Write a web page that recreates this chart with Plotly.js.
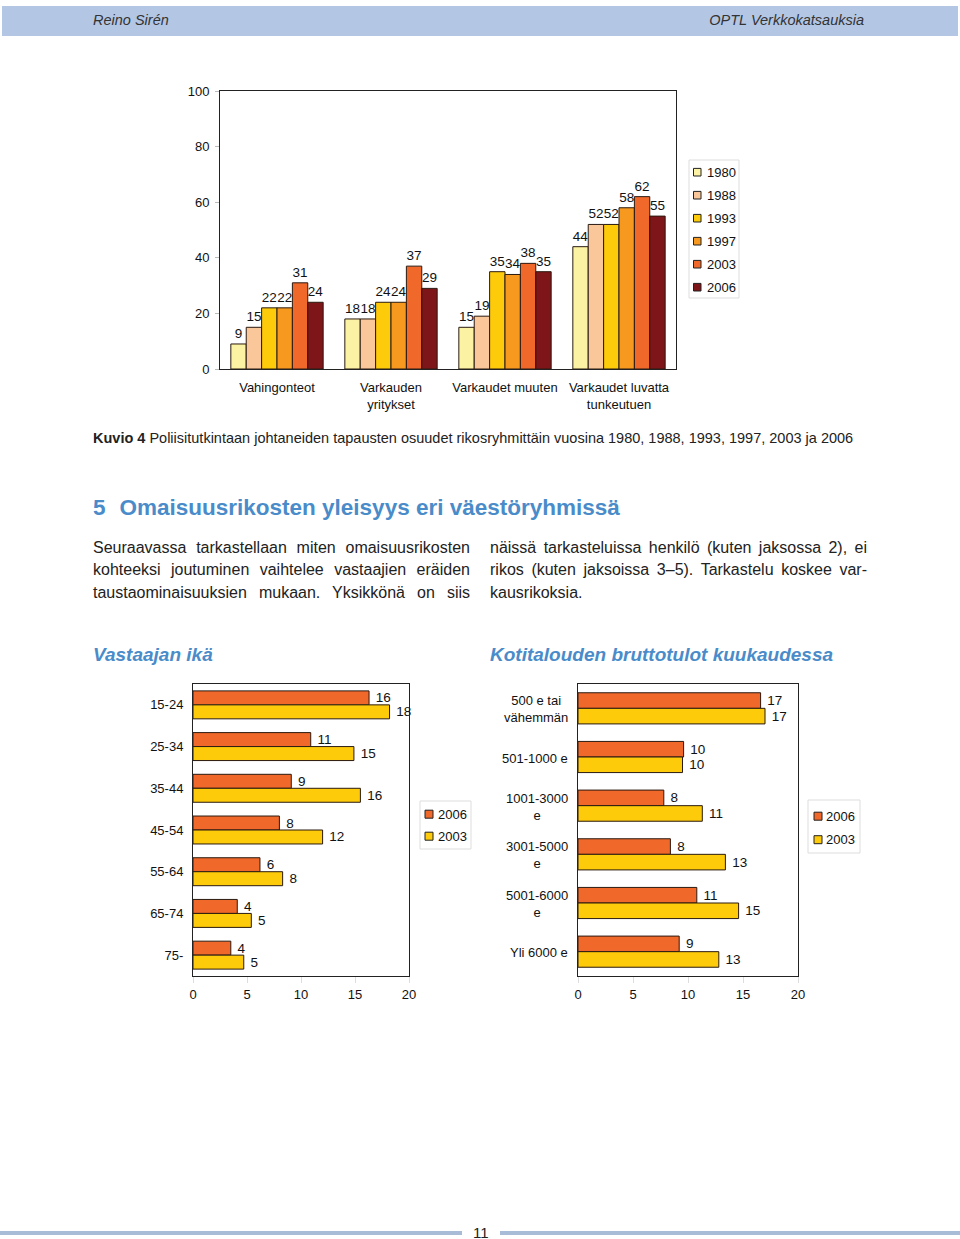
<!DOCTYPE html>
<html><head><meta charset="utf-8">
<script src="https://cdn.plot.ly/plotly-3.0.1.min.js"></script>
<style>
html,body{margin:0;padding:0;background:#fff;}
body{width:960px;height:1239px;overflow:hidden;position:relative;font-family:"Liberation Sans",Arial,Helvetica,sans-serif;color:#222;}
#chart{position:absolute;left:0;top:0;width:960px;height:1239px;}
.t{position:absolute;white-space:nowrap;}
.j{position:absolute;white-space:nowrap;text-align:justify;text-align-last:justify;font-size:16px;height:22px;line-height:22px;width:377px;}
</style></head><body>
<div id="chart"></div>
<div style="position:absolute;left:2px;top:6px;width:956px;height:30px;background:#B3C7E5;"></div>
<div class="t" style="left:93px;top:10px;font-size:14.5px;line-height:20px;font-style:italic;color:#333;">Reino Sirén</div>
<div class="t" style="right:96px;top:10px;font-size:14.5px;line-height:20px;font-style:italic;color:#333;">OPTL Verkkokatsauksia</div>
<div class="t" style="left:93px;top:428px;font-size:14.5px;line-height:20px;color:#222;"><b>Kuvio 4</b> Poliisitutkintaan johtaneiden tapausten osuudet rikosryhmittäin vuosina 1980, 1988, 1993, 1997, 2003 ja 2006</div>
<div class="t" style="left:93px;top:494px;font-size:22.5px;line-height:28px;font-weight:bold;color:#4A8BC9;">5<span style="display:inline-block;width:14px"></span>Omaisuusrikosten yleisyys eri väestöryhmissä</div>
<div class="j" style="left:93px;top:537px;">Seuraavassa tarkastellaan miten omaisuusrikosten</div>
<div class="j" style="left:93px;top:559px;">kohteeksi joutuminen vaihtelee vastaajien eräiden</div>
<div class="j" style="left:93px;top:582px;">taustaominaisuuksien mukaan. Yksikkönä on siis</div>
<div class="j" style="left:490px;top:537px;">näissä tarkasteluissa henkilö (kuten jaksossa 2), ei</div>
<div class="j" style="left:490px;top:559px;">rikos (kuten jaksoissa 3–5). Tarkastelu koskee var-</div>
<div class="j" style="left:490px;top:582px;text-align-last:left;">kausrikoksia.</div>
<div class="t" style="left:93px;top:642px;font-size:19px;line-height:25px;font-weight:bold;font-style:italic;color:#4A8BC9;">Vastaajan ikä</div>
<div class="t" style="left:490px;top:642px;font-size:19px;line-height:25px;font-weight:bold;font-style:italic;color:#4A8BC9;">Kotitalouden bruttotulot kuukaudessa</div>
<div style="position:absolute;left:0;top:1231px;width:462px;height:4px;background:#A8BCD8;"></div>
<div style="position:absolute;left:500px;top:1231px;width:460px;height:4px;background:#A8BCD8;"></div>
<div class="t" style="left:473px;top:1224px;font-size:15px;line-height:18px;color:#222;">11</div>
<script>
// ---- data ----
const crimeCategories = ['Vahingonteot','Varkauden<br>yritykset','Varkaudet muuten','Varkaudet luvatta<br>tunkeutuen'];
const crimeYears = ['1980','1988','1993','1997','2003','2006'];
const share1980 = [9,18,15,44];
const share1988 = [15,18,19,52];
const share1993 = [22,24,35,52];
const share1997 = [22,24,34,58];
const share2003 = [31,37,38,62];
const share2006 = [24,29,35,55];

const compareYears = ['2006','2003'];
const ageGroups = ['15-24','25-34','35-44','45-54','55-64','65-74','75-'];
const age2006 = [16.3,10.9,9.1,8.0,6.2,4.1,3.5];
const age2003 = [18.2,14.9,15.5,12.0,8.3,5.4,4.7];

const incomeGroups = ['500 e tai<br>vähemmän','501-1000 e','1001-3000<br>e','3001-5000<br>e','5001-6000<br>e','Yli 6000 e'];
const income2006 = [16.6,9.6,7.8,8.4,10.8,9.2];
const income2003 = [17.0,9.5,11.3,13.4,14.6,12.8];

// ---- styles ----
const yearColors = ['#FBF2A3','#F9C79A','#FDCB0A','#F7981F','#F0682A','#7E1518'];
const compareColors = ['#F0682A','#FDCB0A'];
const W = 960, H = 1239;
const px = x => x / W, py = y => 1 - y / H;
const FONT = 'Liberation Sans, Arial, sans-serif';
const outline = {color:'#2a1a10', width:1};

const traces = [];
const shareSeries = [share1980,share1988,share1993,share1997,share2003,share2006];
const bw1 = 0.81 / shareSeries.length;
shareSeries.forEach((vals, i) => {
  traces.push({type:'bar', name:crimeYears[i], x:crimeCategories, y:vals, xaxis:'x', yaxis:'y',
    width:bw1, offset:-0.405 + i*bw1,
    marker:{color:yearColors[i], line:outline},
    text:vals.map(String), textposition:'outside', cliponaxis:false, constraintext:'none',
    textfont:{size:13.5, color:'#111', family:FONT}, hoverinfo:'x+y'});
});
[age2006, age2003].forEach((vals, i) => {
  traces.push({type:'bar', orientation:'h', name:compareYears[i], x:vals, y:ageGroups, xaxis:'x2', yaxis:'y2',
    width:0.335, offset:i===0 ? -0.335 : 0,
    marker:{color:compareColors[i], line:outline},
    texttemplate:' %{x:.0f}', textposition:'outside', cliponaxis:false, constraintext:'none',
    textfont:{size:13.5, color:'#111', family:FONT}});
});
[income2006, income2003].forEach((vals, i) => {
  traces.push({type:'bar', orientation:'h', name:compareYears[i], x:vals, y:incomeGroups, xaxis:'x3', yaxis:'y3',
    width:0.32, offset:i===0 ? -0.32 : 0,
    marker:{color:compareColors[i], line:outline},
    texttemplate:' %{x:.0f}', textposition:'outside', cliponaxis:false, constraintext:'none',
    textfont:{size:13.5, color:'#111', family:FONT}});
});

const frame = {showline:true, mirror:true, linecolor:'#222', linewidth:1, showgrid:false, zeroline:false,
  tickfont:{size:13, color:'#111', family:FONT}};

const shapes = [], annotations = [];
// legend 1
shapes.push({type:'rect', xref:'paper', yref:'paper', x0:px(689), x1:px(739), y0:py(298), y1:py(160), line:{color:'#dddddd', width:1}, fillcolor:'#fff'});
crimeYears.forEach((yr, i) => {
  const cy = 172.2 + i*23;
  shapes.push({type:'rect', xref:'paper', yref:'paper', x0:px(693.5), x1:px(701), y0:py(cy+3.8), y1:py(cy-3.8), line:{color:'#222', width:1}, fillcolor:yearColors[i]});
  annotations.push({xref:'paper', yref:'paper', x:px(705), y:py(cy), xanchor:'left', yanchor:'middle', text:yr, showarrow:false, font:{size:13, color:'#111', family:FONT}});
});
// legends 2 and 3
function smallLegend(x0, x1, y0, y1, sqx, txtx, cys) {
  shapes.push({type:'rect', xref:'paper', yref:'paper', x0:px(x0), x1:px(x1), y0:py(y1), y1:py(y0), line:{color:'#dddddd', width:1}, fillcolor:'#fff'});
  compareYears.forEach((yr, i) => {
    const cy = cys[i];
    shapes.push({type:'rect', xref:'paper', yref:'paper', x0:px(sqx), x1:px(sqx+8), y0:py(cy+4), y1:py(cy-4), line:{color:'#222', width:1}, fillcolor:compareColors[i]});
    annotations.push({xref:'paper', yref:'paper', x:px(txtx), y:py(cy), xanchor:'left', yanchor:'middle', text:yr, showarrow:false, font:{size:13, color:'#111', family:FONT}});
  });
}
smallLegend(420, 471, 801, 849, 425, 436, [814.2, 836.2]);
smallLegend(808, 860, 800, 853, 814, 824, [816.2, 839.7]);
// income category labels (centered block, right edge aligned)
incomeGroups.forEach(g => {
  annotations.push({xref:'paper', yref:'y3', x:px(570), y:g, xanchor:'right', yanchor:'middle', align:'center',
    text:g, showarrow:false, font:{size:13, color:'#111', family:FONT}, yshift:-1});
});

const layout = {
  width:W, height:H, margin:{l:0, r:0, t:0, b:0}, autosize:false,
  paper_bgcolor:'rgba(0,0,0,0)', plot_bgcolor:'#fff', showlegend:false, barmode:'group',
  font:{family:FONT, size:13, color:'#111'},
  xaxis:Object.assign({}, frame, {domain:[px(220), px(676)], anchor:'y', type:'category', range:[-0.5, 3.5], ticks:'outside', ticklen:6, tickcolor:'rgba(0,0,0,0)'}),
  yaxis:Object.assign({}, frame, {domain:[py(369), py(91)], anchor:'x', range:[0, 100], dtick:20, ticks:'outside', ticklen:4, tickcolor:'#bbb', ticklabelstandoff:3}),
  xaxis2:Object.assign({}, frame, {domain:[px(193), px(409)], anchor:'y2', range:[0, 20], dtick:5, ticks:'outside', ticklen:6, tickcolor:'#ddd'}),
  yaxis2:Object.assign({}, frame, {domain:[py(976), py(684)], anchor:'x2', type:'category', range:[6.5, -0.5], ticks:'outside', ticklen:6, tickcolor:'rgba(0,0,0,0)'}),
  xaxis3:Object.assign({}, frame, {domain:[px(578), px(798)], anchor:'y3', range:[0, 20], dtick:5, ticks:'outside', ticklen:6, tickcolor:'#ddd'}),
  yaxis3:Object.assign({}, frame, {domain:[py(976), py(684)], anchor:'x3', type:'category', range:[5.5, -0.5], showticklabels:false}),
  shapes:shapes, annotations:annotations
};
Plotly.newPlot('chart', traces, layout, {staticPlot:true, displayModeBar:false});
</script>
</body></html>
